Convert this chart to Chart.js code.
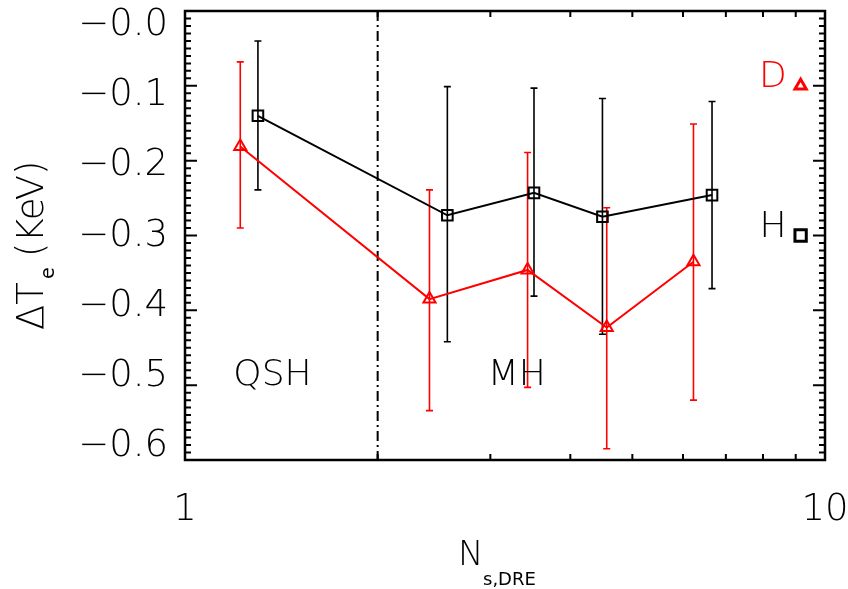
<!DOCTYPE html>
<html>
<head>
<meta charset="utf-8">
<script src="https://cdn.jsdelivr.net/npm/chart.js@4.4.1/dist/chart.umd.min.js"></script>
<style>
  html, body { margin: 0; padding: 0; background: #fff; }
  canvas { display: block; }
</style>
</head>
<body>
<canvas id="GraficoTe" width="848" height="589"></canvas>
<script>
// H (black squares)
const nsH = [1.30, 2.57, 3.51, 4.49, 6.66];
const teH = [-0.140, -0.273, -0.243, -0.275, -0.246];
const loH = [-0.239, -0.442, -0.381, -0.432, -0.371];
const hiH = [-0.040, -0.101, -0.103, -0.117, -0.121];

// D (red triangles)
const nsD = [1.22, 2.41, 3.43, 4.56, 6.23];
const teD = [-0.181, -0.385, -0.346, -0.423, -0.335];
const loD = [-0.290, -0.534, -0.503, -0.585, -0.520];
const hiD = [-0.068, -0.239, -0.189, -0.263, -0.151];

// ticks
const yTicks = [0, -0.1, -0.2, -0.3, -0.4, -0.5, -0.6];
const xTicks = [1, 10];
const xMinor = [2, 3, 4, 5, 6, 7, 8, 9];
const limite = 2;

const FONTE = '"DejaVu Sans", sans-serif';
const PESO = '200 ';

function pontos(xs, ys) {
    return xs.map(function (v, i) { return { x: v, y: ys[i] }; });
}

function barras(ctx, sx, sy, xs, lo, hi, cor) {
    ctx.save();
    ctx.strokeStyle = cor;
    ctx.lineWidth = 1.6;
    for (let i = 0; i < xs.length; i++) {
        const px = sx.getPixelForValue(xs[i]);
        const p1 = sy.getPixelForValue(lo[i]);
        const p2 = sy.getPixelForValue(hi[i]);
        ctx.beginPath();
        ctx.moveTo(px, p1); ctx.lineTo(px, p2);
        ctx.moveTo(px - 3.5, p1); ctx.lineTo(px + 3.5, p1);
        ctx.moveTo(px - 3.5, p2); ctx.lineTo(px + 3.5, p2);
        ctx.stroke();
    }
    ctx.restore();
}

const desenho = {
    id: 'desenho',
    beforeDatasetsDraw(chart) {
        const ctx = chart.ctx, sx = chart.scales.x, sy = chart.scales.y, a = chart.chartArea;
        barras(ctx, sx, sy, nsH, loH, hiH, '#000');
        barras(ctx, sx, sy, nsD, loD, hiD, '#f00');
        // linha QSH / MH
        const px = sx.getPixelForValue(limite);
        ctx.save();
        ctx.strokeStyle = '#000';
        ctx.lineWidth = 2;
        ctx.setLineDash([10, 4, 2, 4]);
        ctx.beginPath();
        ctx.moveTo(px, a.top); ctx.lineTo(px, a.bottom);
        ctx.stroke();
        ctx.restore();
    },
    afterDraw(chart) {
        const ctx = chart.ctx, sx = chart.scales.x, sy = chart.scales.y, a = chart.chartArea;
        ctx.save();
        ctx.strokeStyle = '#000';
        ctx.lineWidth = 2.5;
        ctx.strokeRect(a.left, a.top, a.right - a.left, a.bottom - a.top);
        // y ticks (para dentro)
        ctx.lineWidth = 2;
        ctx.beginPath();
        for (let i = 0; i <= 60; i++) {
            const py = sy.getPixelForValue(-i / 100);
            const len = i % 10 === 0 ? 12 : 6;
            ctx.moveTo(a.left, py); ctx.lineTo(a.left + len, py);
            ctx.moveTo(a.right, py); ctx.lineTo(a.right - len, py);
        }
        xMinor.forEach(function (v) {
            const px = sx.getPixelForValue(v);
            ctx.moveTo(px, a.bottom); ctx.lineTo(px, a.bottom - 6);
            ctx.moveTo(px, a.top); ctx.lineTo(px, a.top + 6);
        });
        ctx.stroke();

        // textos
        ctx.fillStyle = '#000';
        ctx.font = PESO + '36px ' + FONTE;
        ctx.textAlign = 'center';
        ctx.textBaseline = 'alphabetic';
        ctx.fillText('QSH', sx.getPixelForValue(1.37), sy.getPixelForValue(-0.5));
        ctx.fillText('MH', sx.getPixelForValue(3.3), sy.getPixelForValue(-0.5));

        // legenda
        ctx.textAlign = 'right';
        ctx.fillStyle = '#f00';
        ctx.fillText('D', sx.getPixelForValue(9.16) - 14, sy.getPixelForValue(-0.1) + 1);
        ctx.fillStyle = '#000';
        ctx.fillText('H', sx.getPixelForValue(9.16) - 14, sy.getPixelForValue(-0.3) + 1);

        // titulo x
        ctx.textAlign = 'left';
        ctx.font = PESO + '34px ' + FONTE;
        ctx.fillText('N', 458, 565);
        ctx.font = '18px ' + FONTE;
        ctx.fillText('s,DRE', 483, 585);

        // titulo y
        ctx.translate(43, 330);
        ctx.rotate(-Math.PI / 2);
        ctx.font = PESO + '37px ' + FONTE;
        ctx.fillText('\u0394T', 0, 0);
        const w = ctx.measureText('\u0394T').width;
        ctx.font = '19px ' + FONTE;
        ctx.fillText('e', w + 3, 11);
        ctx.font = PESO + '37px ' + FONTE;
        ctx.fillText('(KeV)', 73, 0);
        ctx.restore();
    }
};

new Chart(document.getElementById('GraficoTe'), {
    type: 'scatter',
    data: {
        datasets: [{
            label: 'H',
            data: pontos(nsH, teH),
            showLine: true,
            borderColor: '#000',
            borderWidth: 2,
            pointStyle: 'rect',
            pointRadius: 7.5,
            pointBorderWidth: 2,
            pointBorderColor: '#000',
            pointBackgroundColor: 'rgba(0,0,0,0)'
        }, {
            label: 'D',
            data: pontos(nsD, teD),
            showLine: true,
            borderColor: '#f00',
            borderWidth: 2,
            pointStyle: 'triangle',
            pointRadius: 7,
            pointBorderWidth: 2,
            pointBorderColor: '#f00',
            pointBackgroundColor: 'rgba(0,0,0,0)'
        }, {
            label: 'D key',
            data: [{ x: 9.16, y: -0.1 }],
            pointStyle: 'triangle',
            pointRadius: 6.5,
            pointBorderWidth: 3,
            pointBorderColor: '#f00',
            pointBackgroundColor: 'rgba(0,0,0,0)'
        }, {
            label: 'H key',
            data: [{ x: 9.16, y: -0.3 }],
            pointStyle: 'rect',
            pointRadius: 8,
            pointBorderWidth: 3,
            pointBorderColor: '#000',
            pointBackgroundColor: 'rgba(0,0,0,0)'
        }]
    },
    options: {
        responsive: false,
        animation: false,
        devicePixelRatio: 1,
        layout: { padding: { top: 8, right: 23, left: 0, bottom: 0 } },
        plugins: { legend: { display: false }, tooltip: { enabled: false } },
        scales: {
            x: {
                type: 'logarithmic',
                position: 'bottom',
                min: 1,
                max: 10,
                grid: { display: false },
                border: { display: false },
                afterBuildTicks: function (s) { s.ticks = xTicks.map(function (v) { return { value: v }; }); },
                afterFit: function (s) { s.height = 129; s.paddingLeft = 0; s.paddingRight = 0; },
                ticks: {
                    autoSkip: false,
                    maxRotation: 0,
                    padding: 20,
                    color: '#000',
                    font: { family: FONTE, size: 37, weight: 200 },
                    callback: function (v) { return String(v); }
                }
            },
            y: {
                type: 'linear',
                min: -0.6,
                max: 0,
                display: false
            },
            yLab: {
                type: 'linear',
                position: 'left',
                min: -0.619,
                max: 0.0205,
                grid: { display: false, drawTicks: false },
                border: { display: false },
                afterBuildTicks: function (s) { s.ticks = yTicks.map(function (v) { return { value: v }; }); },
                afterFit: function (s) { s.width = 185; s.paddingTop = 0; s.paddingBottom = 0; },
                ticks: {
                    padding: 17,
                    color: '#000',
                    font: { family: FONTE, size: 37, weight: 200 },
                    callback: function (v) { return '\u2212' + Math.abs(v).toFixed(1); }
                }
            }
        }
    },
    plugins: [desenho]
});
</script>
</body>
</html>
